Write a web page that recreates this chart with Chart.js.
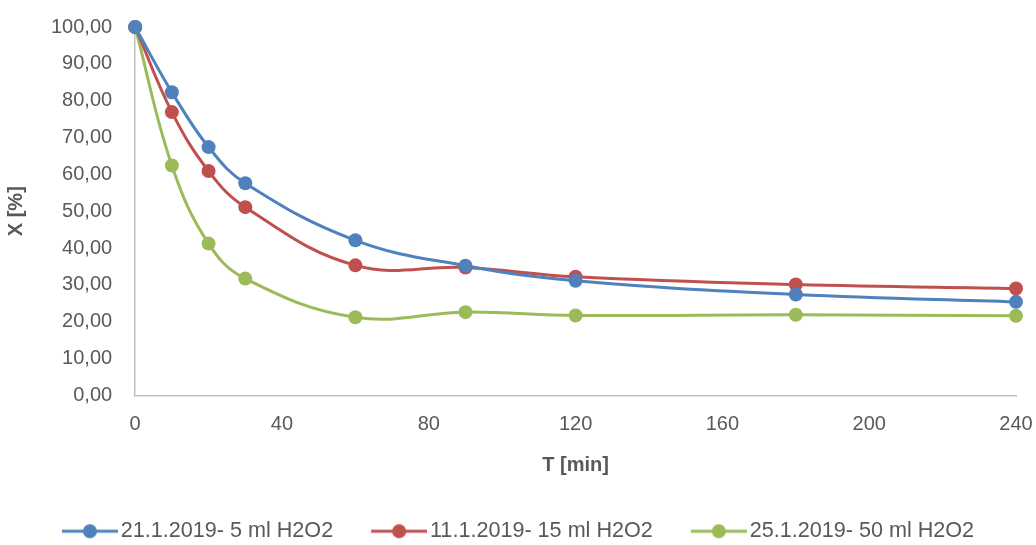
<!DOCTYPE html>
<html>
<head>
<meta charset="utf-8">
<script src="https://cdn.jsdelivr.net/npm/chart.js@4"></script>
<style>
  html, body { margin: 0; padding: 0; background: #fff; }
  #wrap { width: 1036px; height: 545px; }
</style>
</head>
<body>
<div id="wrap"><canvas id="lineChart"></canvas></div>
<script>
// time points [min]
const times = [0, 10, 20, 30, 60, 90, 120, 180, 240];
const series1 = [100, 82.3, 67.4, 57.6, 42.1, 35.2, 31.1, 27.4, 25.4];
const series2 = [100, 76.9, 60.9, 51.1, 35.3, 34.7, 32.2, 30.1, 29.0];
const series3 = [100, 62.4, 41.2, 31.7, 21.2, 22.6, 21.7, 21.9, 21.6];
const seriesNames = ['21.1.2019- 5 ml H2O2', '11.1.2019- 15 ml H2O2', '25.1.2019- 50 ml H2O2'];
const xTicks = [0, 40, 80, 120, 160, 200, 240];
const yTicks = [0, 10, 20, 30, 40, 50, 60, 70, 80, 90, 100];

const colors = ['#4F81BD', '#C0504D', '#9BBB59'];
const fontFamily = '"Liberation Sans", Arial, sans-serif';

// legend marker: short line with a dot in the middle
function legendMarker(color) {
    const c = document.createElement('canvas');
    c.width = 64; c.height = 16;
    const g = c.getContext('2d');
    g.strokeStyle = color;
    g.lineWidth = 3;
    g.beginPath(); g.moveTo(8, 8); g.lineTo(64, 8); g.stroke();
    g.fillStyle = color;
    g.beginPath(); g.arc(36, 8, 7, 0, Math.PI * 2); g.fill();
    return c;
}

const allData = [series1, series2, series3];
const datasets = allData.map((vals, i) => ({
    label: seriesNames[i],
    data: times.map((t, k) => ({ x: t, y: vals[k] })),
    borderColor: colors[i],
    backgroundColor: colors[i],
    borderWidth: 3,
    pointRadius: 7,
    pointHoverRadius: 7,
    pointStyle: 'circle',
    pointBackgroundColor: colors[i],
    pointBorderWidth: 0,
    tension: 0.4,
    clip: false
}));

const ctx = document.getElementById('lineChart').getContext('2d');
new Chart(ctx, {
    type: 'line',
    data: { datasets: datasets },
    options: {
        responsive: true,
        maintainAspectRatio: false,
        animation: false,
        layout: { padding: { top: 0, right: 0, left: 0, bottom: -7 } },
        plugins: {
            legend: {
                position: 'bottom',
                labels: {
                    usePointStyle: true,
                    pointStyleWidth: 48,
                    font: { family: fontFamily, size: 21.6 },
                    color: '#595959',
                    padding: 38,
                    generateLabels: function (chart) {
                        return chart.data.datasets.map((ds, i) => ({
                            text: ds.label,
                            pointStyle: legendMarker(colors[i]),
                            fillStyle: colors[i],
                            strokeStyle: colors[i],
                            lineWidth: 0,
                            datasetIndex: i,
                            fontColor: '#595959'
                        }));
                    }
                }
            },
            tooltip: { enabled: false }
        },
        scales: {
            x: {
                type: 'linear',
                min: 0,
                max: 240,
                afterBuildTicks: axis => { axis.ticks = xTicks.map(v => ({ value: v })); },
                afterFit: axis => { axis.paddingRight = 20; },
                grid: { display: false, drawTicks: false },
                border: { color: '#BFBFBF', width: 1.5 },
                ticks: {
                    color: '#595959',
                    font: { family: fontFamily, size: 20 },
                    padding: 17
                },
                title: {
                    display: true,
                    text: 'T [min]',
                    color: '#595959',
                    font: { family: fontFamily, size: 20, weight: 'bold' },
                    padding: { top: 0, bottom: 5 }
                }
            },
            y: {
                min: 0,
                max: 100,
                afterBuildTicks: axis => { axis.ticks = yTicks.map(v => ({ value: v })); },
                afterFit: axis => { axis.paddingTop = 27; },
                grid: { display: false, drawTicks: false },
                border: { color: '#BFBFBF', width: 1.5 },
                ticks: {
                    color: '#595959',
                    font: { family: fontFamily, size: 20 },
                    padding: 23,
                    callback: v => v.toFixed(2).replace('.', ',')
                },
                title: {
                    display: true,
                    text: 'X [%]',
                    color: '#595959',
                    font: { family: fontFamily, size: 20, weight: 'bold' },
                    padding: { top: 4, bottom: 0 }
                }
            }
        }
    }
});
</script>
</body>
</html>
